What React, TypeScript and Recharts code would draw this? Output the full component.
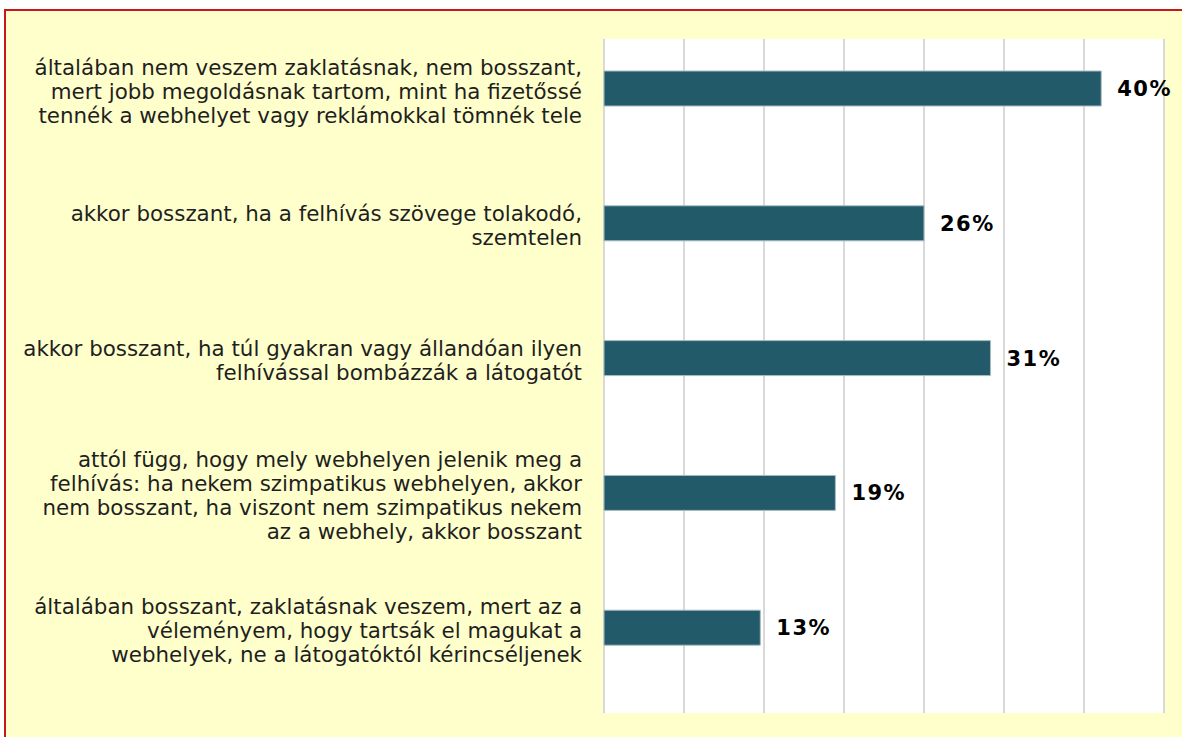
import React from 'react';
import { BarChart, Bar, XAxis, YAxis, CartesianGrid, LabelList } from 'recharts';

// answer texts, already broken into the lines shown on the chart
const answerLines = [
  ['általában nem veszem zaklatásnak, nem bosszant,', 'mert jobb megoldásnak tartom, mint ha fizetőssé', 'tennék a webhelyet vagy reklámokkal tömnék tele'],
  ['akkor bosszant, ha a felhívás szövege tolakodó,', 'szemtelen'],
  ['akkor bosszant, ha túl gyakran vagy állandóan ilyen', 'felhívással bombázzák a látogatót'],
  ['attól függ, hogy mely webhelyen jelenik meg a', 'felhívás: ha nekem szimpatikus webhelyen, akkor', 'nem bosszant, ha viszont nem szimpatikus nekem', 'az a webhely, akkor bosszant'],
  ['általában bosszant, zaklatásnak veszem, mert az a', 'véleményem, hogy tartsák el magukat a', 'webhelyek, ne a látogatóktól kérincséljenek'],
];
const answers = answerLines.map((l) => l.join(' '));
const shares = [40.4, 26.0, 31.4, 18.8, 12.7];
const xTicks = [0, 6.5, 13, 19.5, 26, 32.5, 39, 45.5];

const data = answers.map((answer, i) => ({ answer, share: shares[i] }));

const BAR_SIZE = 35;
const LINE_H = 24;

function AnswerTick(props: any) {
  const { x, y, payload } = props;
  const lines = answerLines[answers.indexOf(payload.value)] || [payload.value];
  // the chart has an empty second series, so the bar sits in the upper half of its slot
  const cy = y - BAR_SIZE / 2 + 2;
  return (
    <text x={x} y={cy} textAnchor="end" fill="#1f1f1f" fontSize={21.4} fontFamily="'DejaVu Sans', Verdana, sans-serif">
      {lines.map((line, i) => (
        <tspan key={i} x={x} y={cy + (i - (lines.length - 1) / 2) * LINE_H} dy="0.36em">
          {line}
        </tspan>
      ))}
    </text>
  );
}

export default function App() {
  return (
    <div style={{ position: 'fixed', left: 0, top: 0, width: 1182, height: 737, overflow: 'hidden', background: '#fff' }}>
      <div
        style={{
          position: 'absolute',
          left: 4,
          top: 9,
          width: 1200,
          height: 760,
          borderTop: '2px solid #c8161d',
          borderLeft: '2px solid #c8161d',
          background: '#ffffcc',
        }}
      />
      <div style={{ position: 'absolute', left: 0, top: 0 }}>
        <BarChart
          width={1182}
          height={737}
          data={data}
          layout="vertical"
          margin={{ top: 39, right: 18, bottom: 24, left: 0 }}
          barSize={BAR_SIZE}
          barGap={0}
        >
          <CartesianGrid horizontal={false} vertical={true} fill="#ffffff" stroke="#d9d9d9" strokeWidth={2} />
          <XAxis type="number" domain={[0, 45.5]} ticks={xTicks} hide />
          <YAxis
            type="category"
            dataKey="answer"
            width={604}
            axisLine={false}
            tickLine={false}
            tickSize={6}
            tickMargin={16}
            tick={<AnswerTick />}
            interval={0}
          />
          <Bar dataKey="share" fill="#225a69" stroke="#a7bcc2" strokeWidth={1} isAnimationActive={false}>
            <LabelList
              dataKey="share"
              position="right"
              offset={16}
              formatter={(v: any) => `${Math.round(Number(v))}%`}
              style={{ fontFamily: "'DejaVu Sans', Verdana, sans-serif", fontSize: 21, fontWeight: 'bold', fill: '#000', letterSpacing: 1.5 }}
            />
          </Bar>
          <Bar dataKey="other" fill="transparent" isAnimationActive={false} />
        </BarChart>
      </div>
    </div>
  );
}
